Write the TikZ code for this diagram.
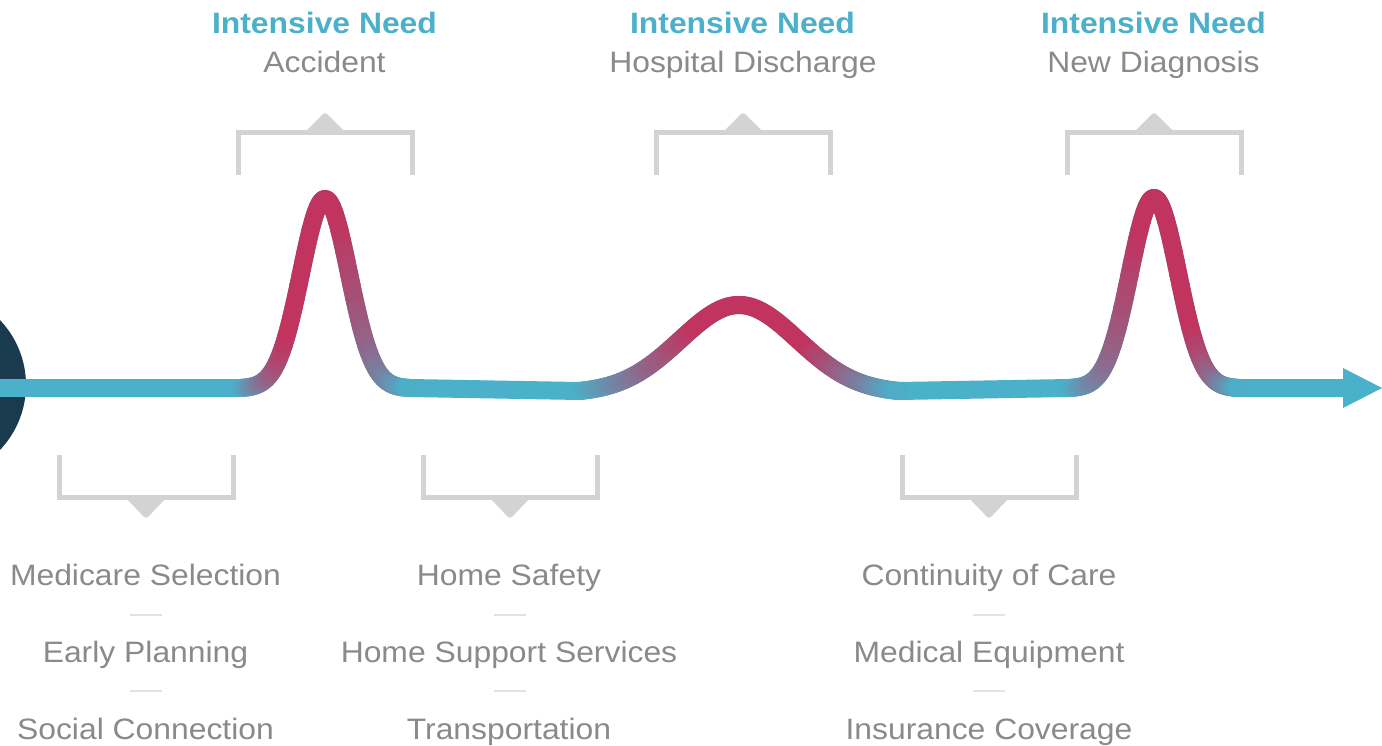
\documentclass[tikz,border=0pt]{standalone}
\usepackage{fontspec}
\setmainfont{Liberation Sans}[FakeStretch=1.08]
\definecolor{lineteal}{HTML}{4BB0C9}
\definecolor{crim}{HTML}{C0345F}
\definecolor{navy}{HTML}{1A3A4E}
\definecolor{txtgray}{HTML}{8A8A8A}
\definecolor{brgray}{HTML}{D3D3D3}
\definecolor{sepgray}{HTML}{E3E3E3}
\tikzset{
  wave/.style={line width=18pt, line cap=round, line join=round},
  bracketline/.style={draw=brgray, line width=5pt, line cap=butt, line join=miter},
  headtxt/.style={font=\fontsize{29.5}{36}\selectfont\bfseries, text=lineteal, inner sep=0pt, anchor=base},
  subtxt/.style={font=\fontsize{29.5}{36}\selectfont, text=txtgray, inner sep=0pt, anchor=base},
  sepline/.style={draw=sepgray, line width=2.5pt}
}
% x0, base, height, sigma, halfwidth, plateauL, plateauR
\newcommand\drawpeak[7]{%
  \pgfmathsetmacro\gw{exp(0-(#5/#4)^2)}%
  \pgfmathsetmacro\dstart{#1-#5}%
  \pgfmathsetmacro\dend{#1+#5}%
  \pgfmathsetmacro\dstep{#5/35}%
  \draw[wave, lineteal] plot[domain=\dstart:\dend, samples=121] (\x, {#2 - #3*(exp(0-((\x-#1)/#4)^2)-\gw)/(1-\gw)});
  \foreach \i in {0,...,69} {
    \pgfmathsetmacro\sa{\dstart+\i*\dstep}
    \pgfmathsetmacro\sb{\sa+\dstep}
    \pgfmathsetmacro\sm{(\sa+\sb)/2}
    \pgfmathsetmacro\fl{(\sm-\dstart)/(#5-#6)}
    \pgfmathsetmacro\fr{(\dend-\sm)/(#5-#7)}
    \pgfmathtruncatemacro\pp{100*max(0,min(1,\fl,\fr))}
    \draw[wave, crim!\pp!lineteal] plot[domain=\sa:\sb, samples=4] (\x, {#2 - #3*(exp(0-((\x-#1)/#4)^2)-\gw)/(1-\gw)});
  }
}
\newcommand\topbracket[2]{% name, cx
  \draw[bracketline] (#2-87,175) -- (#2-87,132.5) -- (#2+87,132.5) -- (#2+87,175);
  \fill[brgray, rounded corners=3pt] (#2-21,133) -- (#2,112) -- (#2+21,133) -- cycle;
  \coordinate (#1) at (#2,112);
}
\newcommand\botbracket[2]{% name, cx
  \draw[bracketline] (#2-87,455) -- (#2-87,497.5) -- (#2+87,497.5) -- (#2+87,455);
  \fill[brgray, rounded corners=3pt] (#2-21,497) -- (#2,519) -- (#2+21,497) -- cycle;
  \coordinate (#1) at (#2,519);
}
\begin{document}
\begin{tikzpicture}[x=1pt, y=-1pt]
\useasboundingbox (0,0) rectangle (1382,746);
\clip (0,0) rectangle (1382,746);
\fill[white] (0,0) rectangle (1382,746);

% left circle
\fill[navy] (-68,385) circle (94);

% baseline wave
\coordinate (w0) at (0,388);
\coordinate (w1) at (240,388);
\coordinate (w2) at (410,388);
\coordinate (w3) at (579,391);
\coordinate (w4) at (899,391);
\coordinate (w5) at (1069,388);
\coordinate (w6) at (1239,388);
\coordinate (w7) at (1346,388);
\draw[wave, lineteal] (w0) -- (w1);
\draw[wave, lineteal] (w2) -- (w3);
\draw[wave, lineteal] (w4) -- (w5);
\draw[wave, lineteal] (w6) -- (w7);
\drawpeak{325}{388}{189}{34}{85}{38}{15}
\drawpeak{739}{391}{86}{83}{160}{44}{70}
\drawpeak{1154}{388}{190}{34}{85}{15}{38}
% arrow head
\fill[lineteal] (1343,368) -- (1382,388) -- (1343,408) -- cycle;

% top brackets
\topbracket{tb1}{325}
\topbracket{tb2}{743}
\topbracket{tb3}{1154}
% bottom brackets
\botbracket{bb1}{146}
\botbracket{bb2}{510}
\botbracket{bb3}{989}

% top labels
\node[headtxt] (h1) at (324.5,34) {Intensive Need};
\node[subtxt] (s1) at (324.5,73) {Accident};
\node[headtxt] (h2) at (742.5,34) {Intensive Need};
\node[subtxt] (s2) at (743,73) {Hospital Discharge};
\node[headtxt] (h3) at (1153.5,34) {Intensive Need};
\node[subtxt] (s3) at (1153.5,73) {New Diagnosis};

% bottom columns
\node[subtxt] (a1) at (145.5,585) {Medicare Selection};
\node[subtxt] (a2) at (145.5,662) {Early Planning};
\node[subtxt] (a3) at (145.5,739) {Social Connection};
\node[subtxt] (b1) at (509,585) {Home Safety};
\node[subtxt] (b2) at (509,662) {Home Support Services};
\node[subtxt] (b3) at (509,739) {Transportation};
\node[subtxt] (c1) at (989,585) {Continuity of Care};
\node[subtxt] (c2) at (989,662) {Medical Equipment};
\node[subtxt] (c3) at (989,739) {Insurance Coverage};

% separators
\foreach \cx in {146,510,989} {
  \draw[sepline] (\cx-16,615) -- (\cx+16,615);
  \draw[sepline] (\cx-16,691) -- (\cx+16,691);
}
\end{tikzpicture}
\end{document}
